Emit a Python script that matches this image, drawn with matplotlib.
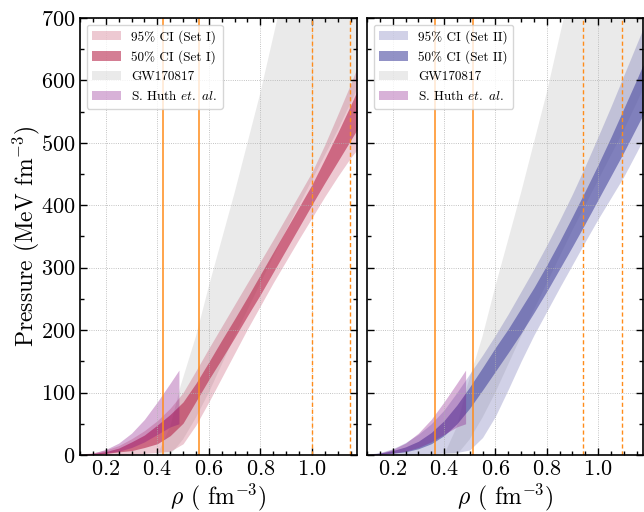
import matplotlib
matplotlib.use('Agg')
import matplotlib.pyplot as plt
import numpy as np
from matplotlib.ticker import MultipleLocator

plt.rcParams['font.family'] = 'serif'
plt.rcParams['font.serif'] = ['cmr10']
plt.rcParams['mathtext.fontset'] = 'cm'
plt.rcParams['axes.formatter.use_mathtext'] = True
plt.rcParams['axes.unicode_minus'] = False

# density grid for the bands
rho = [0.1, 0.15, 0.2, 0.25, 0.3, 0.35, 0.4, 0.45, 0.5, 0.55, 0.6, 0.65, 0.7, 0.75,
       0.8, 0.85, 0.9, 0.95, 1.0, 1.05, 1.1, 1.15, 1.175]

# Set I
set1_hi95 = [1.5, 3.5, 8, 15, 26, 39, 55, 75, 100, 135, 171, 206, 241, 276,
             310, 345, 381, 417, 453, 497, 545, 594, 620]
set1_lo95 = [0, 0.2, 0.5, 1, 1.5, 2.5, 4, 6, 18, 48, 85, 124, 163, 202,
             239, 276, 311, 346, 380, 414, 446, 476, 489]
set1_hi50 = [0.8, 2.3, 5.5, 11, 21, 32, 48, 65, 85, 115, 149, 184, 218, 253,
             289, 325, 361, 397, 433, 474, 516, 560, 583]
set1_lo50 = [0.2, 0.7, 2.5, 5, 7, 12, 18, 31, 51, 86, 121, 154, 188, 223,
             257, 293, 329, 365, 401, 436, 470, 504, 521]

# Set II
set2_hi95 = [1, 4, 10, 20, 33, 50, 72, 100, 130, 160, 192, 226, 262, 298,
             336, 376, 418, 463, 510, 558, 608, 658, 683]
set2_lo95 = [0, 0.2, 0.5, 1, 1.5, 2, 3, 4, 8, 28, 62, 105, 150, 192,
             230, 268, 305, 342, 378, 412, 446, 485, 505]
set2_hi50 = [0.9, 3, 7, 13, 22, 36, 55, 80, 109, 140, 172, 202, 235, 268,
             304, 342, 382, 423, 465, 509, 555, 601, 625]
set2_lo50 = [0.1, 1, 3, 5, 10, 18, 31, 50, 75, 104, 134, 164, 195, 228,
             262, 298, 334, 371, 409, 447, 485, 525, 545]

# S. Huth et al.
rho_huth = [0.1, 0.15, 0.2, 0.25, 0.3, 0.35, 0.4, 0.45, 0.484]
huth_hi = [0.3, 3, 9, 19, 35, 57, 85, 115, 136]
huth_lo = [0.1, 1, 3, 6, 12, 21, 33, 45, 50]

# GW170817
rho_gw_hi = [0.40, 0.45, 0.49, 0.55, 0.6, 0.7, 0.8, 0.9, 1.0, 1.18]
gw_hi = [0, 45, 110, 190, 270, 420, 580, 760, 900, 1200]
rho_gw_lo = [0.40, 0.45, 0.5, 0.55, 0.6, 0.65, 0.7, 0.8, 0.9, 1.0, 1.1, 1.18]
gw_lo = [0, 0, 25, 60, 100, 145, 190, 275, 360, 440, 520, 590]

# vertical markers
solid_lines = [[0.421, 0.561], [0.363, 0.5125]]
dashed_lines = [[1.0, 1.148], [0.942, 1.092]]

sets = [
    ('Set I', '#b8284d', set1_hi95, set1_lo95, set1_hi50, set1_lo50),
    ('Set II', '#4a4aa0', set2_hi95, set2_lo95, set2_hi50, set2_lo50),
]

fig = plt.figure(figsize=(6.44, 5.12), dpi=100)
ax1 = fig.add_axes([80/644, 1-455/512, 277/644, 437/512])
ax2 = fig.add_axes([367/644, 1-455/512, 276/644, 437/512], sharey=ax1)
axes = [ax1, ax2]

orange = '#ff8c1a'

for i, ax in enumerate(axes):
    name, col, hi95, lo95, hi50, lo50 = sets[i]
    gx = list(rho_gw_hi) + list(rho_gw_lo[::-1])
    gy = list(gw_hi) + list(gw_lo[::-1])
    ax.fill_between(rho, lo95, hi95, color=col, alpha=0.25, lw=0, label=f'95% CI ({name})')
    ax.fill_between(rho, lo50, hi50, color=col, alpha=0.6, lw=0, label=f'50% CI ({name})')
    ax.fill(gx, gy, color='#bbbbbb', alpha=0.3, lw=0, label='GW170817', zorder=0.5)
    ax.fill_between(rho_huth, huth_lo, huth_hi, color='purple', alpha=0.3, lw=0,
                    label=r'S. Huth $\mathit{et.}$ $\mathit{al.}$')

    for xv in solid_lines[i]:
        ax.axvline(xv, color=orange, lw=1.1)
    for xv in dashed_lines[i]:
        ax.axvline(xv, color=orange, lw=1.0, ls=(0, (3, 2)))

    ax.set_xlim(0.1, 1.175)
    ax.set_ylim(0, 700)
    ax.xaxis.set_major_locator(MultipleLocator(0.2))
    ax.xaxis.set_minor_locator(MultipleLocator(0.05))
    ax.yaxis.set_major_locator(MultipleLocator(100))
    ax.yaxis.set_minor_locator(MultipleLocator(50))
    ax.tick_params(which='both', direction='in', top=True, right=True, labelsize=16, width=1.0)
    ax.tick_params(which='major', length=5)
    ax.tick_params(which='minor', length=3)
    for sp in ax.spines.values():
        sp.set_linewidth(1.2)
    ax.grid(True, ls=':', color='#b0b0b0', lw=0.6)
    ax.set_xlabel(r'$\rho$ ( fm$^{-3}$)', fontsize=17, labelpad=2)

    h, l = ax.get_legend_handles_labels()
    ax.legend(h, l, loc='upper left', fontsize=9.5, handlelength=2.2, borderaxespad=0.5)

ax1.set_ylabel(r'Pressure (MeV fm$^{-3}$)', fontsize=17, labelpad=-1)
plt.setp(ax2.get_yticklabels(), visible=False)

fig.savefig('out.png', dpi=100)
